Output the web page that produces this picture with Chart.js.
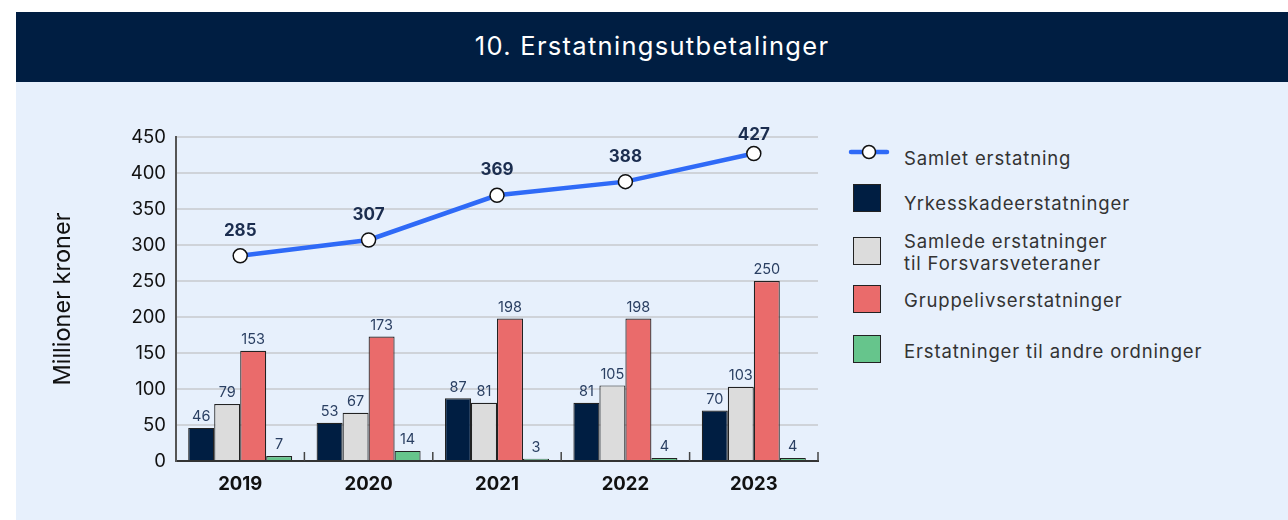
<!DOCTYPE html>
<html>
<head>
<meta charset="utf-8">
<script src="https://cdn.jsdelivr.net/npm/chart.js@4.4.1/dist/chart.umd.min.js"></script>
<style>
  body { margin: 0; background: #fff; font-family: Inter, "Open Sans", sans-serif; }
  #header {
    position: absolute; left: 16px; top: 12px; width: 1272px; height: 70px;
    background: #001e42; color: #fff; font-size: 25.5px; letter-spacing: 1.3px;
    display: flex; align-items: center; justify-content: center; padding-bottom: 3px; box-sizing: border-box;
  }
  #panel { position: absolute; left: 16px; top: 82px; width: 1272px; height: 438px; background: #e7f0fc; }
  #wrap { position: absolute; left: 0; top: 0; width: 812px; height: 438px; }
  #legend { position: absolute; left: 832px; top: 60px; color: #333; font-size: 18.5px; letter-spacing: 0.85px; }
  .item { position: absolute; left: 0; white-space: nowrap; }
  .sw { position: absolute; left: 5px; width: 28px; height: 28px; border: 1.5px solid #222; box-sizing: border-box; }
  .txt { position: absolute; left: 56px; line-height: 22px; }
</style>
</head>
<body>
<div id="header">10. Erstatningsutbetalinger</div>
<div id="panel">
  <div id="wrap"><canvas id="chart"></canvas></div>
  <div id="legend"></div>
</div>
<script>
const years = ['2019', '2020', '2021', '2022', '2023'];
const samlet = [285, 307, 369, 388, 427];
const yrkesskade = [46, 53, 87, 81, 70];
const veteraner = [79, 67, 81, 105, 103];
const gruppeliv = [153, 173, 198, 198, 250];
const andre = [7, 14, 3, 4, 4];
const yTicks = [0, 50, 100, 150, 200, 250, 300, 350, 400, 450];

const seriesNames = ['Samlet erstatning', 'Yrkesskadeerstatninger', 'Samlede erstatninger\ntil Forsvarsveteraner', 'Gruppelivserstatninger', 'Erstatninger til andre ordninger'];
const barColors = ['#001e42', '#dcdcdc', '#ea6b6b', '#66c58c'];

// value labels above points and bars
const valueLabels = {
  id: 'valueLabels',
  afterDatasetsDraw(chart) {
    const ctx = chart.ctx;
    ctx.save();
    ctx.textAlign = 'center';
    ctx.textBaseline = 'middle';
    chart.data.datasets.forEach((ds, i) => {
      const meta = chart.getDatasetMeta(i);
      meta.data.forEach((el, j) => {
        if (ds.type === 'line') {
          ctx.font = 'bold 17px Inter, sans-serif';
          ctx.fillStyle = '#1b2d4f';
          ctx.fillText(ds.data[j], el.x, Math.max(el.y - 25, 53));
        } else {
          ctx.font = '14.5px Inter, sans-serif';
          ctx.fillStyle = '#2a3f62';
          ctx.fillText(ds.data[j], el.x, el.y - 11);
        }
      });
    });
    ctx.restore();
  }
};

// little upward ticks between categories
const catTicks = {
  id: 'catTicks',
  afterDraw(chart) {
    const x = chart.scales.x, ctx = chart.ctx, b = chart.chartArea.bottom;
    const step = x.getPixelForValue(1) - x.getPixelForValue(0);
    ctx.save();
    ctx.strokeStyle = '#444';
    ctx.lineWidth = 1.5;
    for (let i = 0; i < years.length; i++) {
      const px = x.getPixelForValue(i) + step / 2;
      ctx.beginPath();
      ctx.moveTo(px, b - 9);
      ctx.lineTo(px, b);
      ctx.stroke();
    }
    ctx.restore();
  }
};

const barSets = [yrkesskade, veteraner, gruppeliv, andre].map((d, i) => ({
  type: 'bar',
  label: seriesNames[i + 1],
  data: d,
  backgroundColor: barColors[i],
  borderColor: '#222',
  borderWidth: 1.2,
  barPercentage: 1,
  categoryPercentage: 0.81,
  order: 2
}));

new Chart(document.getElementById('chart'), {
  data: {
    labels: years,
    datasets: [{
      type: 'line',
      label: seriesNames[0],
      data: samlet,
      borderColor: '#2f6af7',
      borderWidth: 4.5,
      pointRadius: 7,
      pointBackgroundColor: '#fff',
      pointBorderColor: '#111',
      pointBorderWidth: 1.5,
      tension: 0,
      order: 1
    }, ...barSets]
  },
  options: {
    responsive: true,
    maintainAspectRatio: false,
    animation: false,
    layout: { padding: { top: 55, bottom: 19, right: 10, left: 0 } },
    plugins: { legend: { display: false }, tooltip: { enabled: false } },
    scales: {
      x: {
        grid: { display: false },
        border: { color: '#333', width: 2 },
        ticks: { color: '#111', padding: 4, font: { family: 'Inter', size: 18.5, weight: 'bold' } },
        afterFit(s) { s.height = 40; }
      },
      y: {
        min: 0, max: 450,
        afterBuildTicks(s) { s.ticks = yTicks.map(v => ({ value: v })); },
        grid: { color: '#cfd3d9', lineWidth: 2, drawTicks: false },
        border: { color: '#555', width: 2 },
        ticks: { color: '#111', padding: 10, font: { family: 'Inter', size: 18.5 } },
        title: { display: true, text: 'Millioner kroner', color: '#111', font: { family: 'Inter', size: 23.5 }, padding: { top: 33, bottom: 0 } },
        afterFit(s) { s.width = 160; }
      }
    }
  },
  plugins: [valueLabels, catTicks]
});

// legend
const legend = document.getElementById('legend');
const rows = [
  { top: 0, txtTop: 5 },
  { top: 42, txtTop: 50 },
  { top: 95, txtTop: 88 },
  { top: 143, txtTop: 147 },
  { top: 193, txtTop: 198 }
];
seriesNames.forEach((name, i) => {
  const it = document.createElement('div');
  it.className = 'item';
  it.style.top = rows[i].top + 'px';
  let sym;
  if (i === 0) {
    sym = '<svg style="position:absolute;left:0;top:0" width="42" height="20"><line x1="3" y1="10" x2="39" y2="10" stroke="#2f6af7" stroke-width="4.5" stroke-linecap="round"/><circle cx="21" cy="10" r="6.5" fill="#fff" stroke="#111" stroke-width="1.5"/></svg>';
  } else {
    sym = '<div class="sw" style="background:' + barColors[i - 1] + '"></div>';
  }
  it.innerHTML = sym + '<div class="txt" style="top:' + (rows[i].txtTop - rows[i].top) + 'px">' + name.replace('\n', '<br>') + '</div>';
  legend.appendChild(it);
});
</script>
</body>
</html>
